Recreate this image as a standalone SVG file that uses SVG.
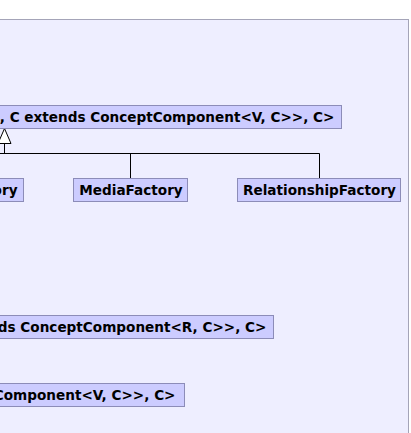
<svg xmlns="http://www.w3.org/2000/svg" width="411" height="433" viewBox="0 0 411 433">
<style>
.frame{fill:#eeeeff;stroke:#a4a4b8;stroke-width:1}
.box{fill:#ccccff;stroke:#8c8cb8;stroke-width:1}
.t{font-family:"DejaVu Sans",sans-serif;font-weight:bold;font-size:13.6px;fill:#000}
.c{stroke:#000;stroke-width:1;fill:none}
.tri{fill:#fff;stroke:#000;stroke-width:1}
</style>
<rect class="frame" x="-20" y="19.5" width="428.5" height="440"/>
<g id="connectors">
<polyline class="c" points="-10,153.5 319.5,153.5 319.5,178.5"/>
<line class="c" x1="130.5" y1="153.5" x2="130.5" y2="178.5"/>
<line class="c" x1="4.5" y1="143.5" x2="4.5" y2="153.5"/>
<polygon class="tri" points="4.5,128.5 11,143.5 -2,143.5"/>
</g>
<g id="node-superclass">
<rect class="box" x="-20" y="105.5" width="361.5" height="23"/>
<text class="t" x="334.5" y="121.5" text-anchor="end">, C extends ConceptComponent&lt;V, C&gt;&gt;, C&gt;</text>
</g>
<g id="node-ory">
<rect class="box" x="-20" y="178.5" width="43.5" height="23"/>
<text class="t" x="17.5" y="194.5" text-anchor="end">ory</text>
</g>
<g id="node-media">
<rect class="box" x="73.5" y="178.5" width="114" height="23"/>
<text class="t" x="131" y="194.5" text-anchor="middle">MediaFactory</text>
</g>
<g id="node-relationship">
<rect class="box" x="237.5" y="178.5" width="163" height="23"/>
<text class="t" x="319.5" y="194.5" text-anchor="middle">RelationshipFactory</text>
</g>
<g id="node-r">
<rect class="box" x="-20" y="315.5" width="293.5" height="23"/>
<text class="t" x="266.5" y="331.5" text-anchor="end">nds ConceptComponent&lt;R, C&gt;&gt;, C&gt;</text>
</g>
<g id="node-v">
<rect class="box" x="-20" y="383.5" width="204.5" height="23"/>
<text class="t" x="175.5" y="399.5" text-anchor="end">Component&lt;V, C&gt;&gt;, C&gt;</text>
</g>
</svg>
